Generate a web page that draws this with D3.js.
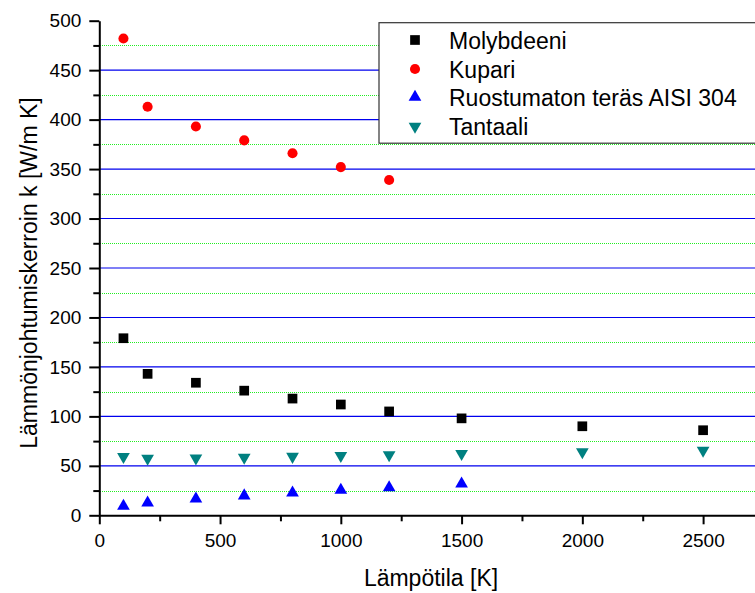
<!DOCTYPE html>
<html>
<head>
<meta charset="utf-8">
<script src="https://cdn.jsdelivr.net/npm/d3@7"></script>
<style>
  html, body { margin: 0; padding: 0; background: #fff; }
  svg { display: block; font-family: "Liberation Sans", Arial, sans-serif; }
</style>
</head>
<body>
<svg id="chart" width="755" height="593"></svg>
<script>
// Temperatures (K) and thermal conductivities (W/m K)
const tempsFull = [100, 200, 400, 600, 800, 1000, 1200, 1500, 2000, 2500];
const tempsCopper = [100, 200, 400, 600, 800, 1000, 1200];
const tempsSteel = [100, 200, 400, 600, 800, 1000, 1200, 1500];

const molybdenum = [179, 143, 134, 126, 118, 112, 105, 98, 90, 86];
const copper = [482, 413, 393, 379, 366, 352, 339];
const stainless = [9.2, 12.6, 16.6, 19.8, 22.6, 25.4, 28.0, 31.7];
const tantalum = [59.2, 57.5, 57.8, 58.6, 59.4, 60.2, 61.0, 62.2, 64.1, 65.6];

const seriesNames = ["Molybdeeni", "Kupari", "Ruostumaton teräs AISI 304", "Tantaali"];

const xMajorTicks = [0, 500, 1000, 1500, 2000, 2500];
const xMinorTicks = [250, 750, 1250, 1750, 2250];
const yMajorTicks = [0, 50, 100, 150, 200, 250, 300, 350, 400, 450, 500];
const yMinorTicks = [25, 75, 125, 175, 225, 275, 325, 375, 425, 475];
const yGridMajor = [50, 100, 150, 200, 250, 300, 350, 400, 450];

const svg = d3.select("#chart");

const x0 = 99.3, y0 = 515.3, yTop = 20.7;
const x = d3.scaleLinear().domain([0, 2750]).range([x0, x0 + 2750 * 0.24152]);
const y = d3.scaleLinear().domain([0, 500]).range([y0, yTop]);

// grid lines: dotted green minor, solid blue major
const grid = svg.append("g");
grid.selectAll("line.minor").data(yMinorTicks).join("line")
  .attr("class", "minor")
  .attr("x1", 100).attr("x2", 760)
  .attr("y1", d => Math.round(y(d)) + 0.5).attr("y2", d => Math.round(y(d)) + 0.5)
  .attr("stroke", "#22ee22").attr("stroke-width", 1)
  .attr("stroke-dasharray", "1,1")
  .attr("shape-rendering", "crispEdges");
grid.selectAll("line.major").data(yGridMajor).join("line")
  .attr("class", "major")
  .attr("x1", x0).attr("x2", 760)
  .attr("y1", d => y(d)).attr("y2", d => y(d))
  .attr("stroke", "#0000ee").attr("stroke-width", 1.1);

// axes
function styleAxis(g) {
  g.selectAll("path, line").attr("stroke", "#000").attr("stroke-width", 2);
  g.selectAll("text").attr("fill", "#000").style("font-size", "19px")
    .style("font-family", "'Liberation Sans', Arial, sans-serif");
}

svg.append("g").attr("transform", `translate(0,${y0})`)
  .call(d3.axisBottom(x).tickValues(xMinorTicks).tickSize(6).tickSizeOuter(0).tickFormat(""))
  .call(g => g.select(".domain").remove())
  .call(styleAxis);
svg.append("g").attr("transform", `translate(0,${y0})`)
  .call(d3.axisBottom(x).tickValues(xMajorTicks).tickSize(9).tickSizeOuter(0).tickPadding(9).tickFormat(d3.format("d")))
  .call(styleAxis);

svg.append("g").attr("transform", `translate(${x0},0)`)
  .call(d3.axisLeft(y).tickValues(yMinorTicks).tickSize(6).tickSizeOuter(0).tickFormat(""))
  .call(g => g.select(".domain").remove())
  .call(styleAxis);
svg.append("g").attr("transform", `translate(${x0},0)`)
  .call(d3.axisLeft(y).tickValues(yMajorTicks).tickSize(10).tickSizeOuter(0).tickPadding(8).tickFormat(d3.format("d")))
  .call(styleAxis);

// axis titles
svg.append("text")
  .attr("x", 431).attr("y", 586)
  .attr("text-anchor", "middle")
  .style("font-size", "23px")
  .text("Lämpötila [K]");
svg.append("text")
  .attr("transform", "translate(37,273) rotate(-90)")
  .attr("text-anchor", "middle")
  .style("font-size", "23px")
  .text("Lämmönjohtumiskerroin k [W/m K]");

// series
const series = [
  { name: seriesNames[0], t: tempsFull, v: molybdenum, type: d3.symbolSquare, size: 94, rot: 0, color: "#000000" },
  { name: seriesNames[1], t: tempsCopper, v: copper, type: d3.symbolCircle, size: 80, rot: 0, color: "#ff0000" },
  { name: seriesNames[2], t: tempsSteel, v: stainless, type: d3.symbolTriangle, size: 70, rot: 0, color: "#0000ff" },
  { name: seriesNames[3], t: tempsFull, v: tantalum, type: d3.symbolTriangle, size: 70, rot: 180, color: "#008080" }
];

const marks = svg.append("g");
series.forEach(s => {
  const sym = d3.symbol().type(s.type).size(s.size);
  marks.append("g").selectAll("path")
    .data(s.t.map((t, i) => [t, s.v[i]]))
    .join("path")
    .attr("d", sym)
    .attr("transform", d => `translate(${x(d[0])},${y(d[1])}) rotate(${s.rot})`)
    .attr("fill", s.color);
});

// legend
const legend = svg.append("g");
legend.append("rect")
  .attr("x", 379).attr("y", 22.7).attr("width", 400).attr("height", 120.5)
  .attr("fill", "#fff").attr("stroke", "#333").attr("stroke-width", 1.2);
const rowY = [40, 69, 97, 126.5];
series.forEach((s, i) => {
  legend.append("path")
    .attr("d", d3.symbol().type(s.type).size(s.size)())
    .attr("transform", `translate(415,${rowY[i]}) rotate(${s.rot})`)
    .attr("fill", s.color);
  legend.append("text")
    .attr("x", 449).attr("y", rowY[i] + 8.5)
    .style("font-size", "23px")
    .text(s.name);
});
</script>
</body>
</html>
